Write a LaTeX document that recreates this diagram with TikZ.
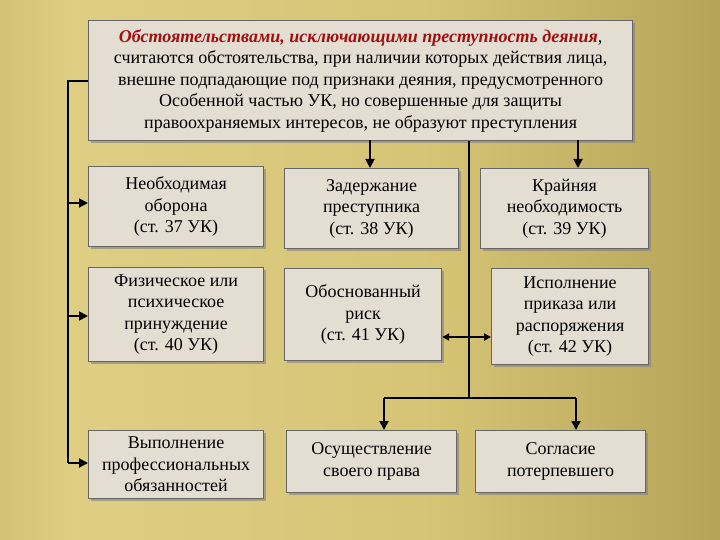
\documentclass[tikz,border=0pt]{standalone}
\usepackage{fontspec}
\setmainfont{Liberation Serif}
\usetikzlibrary{arrows.meta,shadows}
\definecolor{boxf}{HTML}{E4DDD2}
\definecolor{redt}{HTML}{A01010}
\pgfdeclarehorizontalshading{gold}{100bp}{rgb(0bp)=(0.60,0.52,0.22); rgb(30bp)=(0.87,0.81,0.52); rgb(55bp)=(0.84,0.77,0.46); rgb(100bp)=(0.55,0.48,0.20)}
\tikzset{
 bx/.style={draw=black!60,line width=1.2pt,fill=boxf,align=center,font=\fontsize{18}{21.5}\selectfont,inner sep=1pt,drop shadow={shadow xshift=2pt,shadow yshift=-2pt,opacity=.6}},
 ln/.style={line width=1.8pt,black},
 ar/.style={ln,-{Triangle[length=9pt,width=9pt]}}
}
\begin{document}
\begin{tikzpicture}[x=1pt,y=-1pt]
\useasboundingbox (0,0) rectangle (720,540);
\shade[shading=gold] (0,0) rectangle (720,540);
\node[bx,minimum width=544,minimum height=120,anchor=north west] (top) at (88,20) {{\color{redt}\bfseries\itshape Обстоятельствами, исключающими преступность деяния},\\считаются обстоятельства, при наличии которых действия лица,\\внешне подпадающие под признаки деяния, предусмотренного\\Особенной частью УК, но совершенные для защиты\\правоохраняемых интересов, не образуют преступления};
\node[bx,minimum width=175,minimum height=80,anchor=north west] (a1) at (88,166) {Необходимая\\оборона\\(ст. 37 УК)};
\node[bx,minimum width=174,minimum height=80,anchor=north west] (a2) at (284,168) {Задержание\\преступника\\(ст. 38 УК)};
\node[bx,minimum width=168,minimum height=80,anchor=north west] (a3) at (480,168) {Крайняя\\необходимость\\(ст. 39 УК)};
\node[bx,minimum width=175,minimum height=94,anchor=north west] (b1) at (88,267) {Физическое или\\психическое\\принуждение\\(ст. 40 УК)};
\node[bx,minimum width=157,minimum height=92,anchor=north west] (b2) at (284,268) {Обоснованный\\риск\\(ст. 41 УК)};
\node[bx,minimum width=157,minimum height=96,anchor=north west] (b3) at (491,268) {Исполнение\\приказа или\\распоряжения\\(ст. 42 УК)};
\node[bx,minimum width=175,minimum height=68,anchor=north west] (c1) at (88,430) {Выполнение\\профессиональных\\обязанностей};
\node[bx,minimum width=170,minimum height=62,anchor=north west] (c2) at (286,430) {Осуществление\\своего права};
\node[bx,minimum width=170,minimum height=62,anchor=north west] (c3) at (475,430) {Согласие\\потерпевшего};
\coordinate (l0) at (68,81);
\draw[ln] (top.west|-l0) -- (l0) -- (68,463);
\draw[ar] (68,203) -- (a1.west|-68,203);
\draw[ar] (68,316) -- (b1.west|-68,316);
\draw[ar] (68,463) -- (c1.west|-68,463);
\draw[ar] (a2.north-|370,0) ++(0,-28) -- (a2.north-|370,0);
\draw[ar] (a3.north-|578,0) ++(0,-28) -- (a3.north-|578,0);
\coordinate (t) at (469,398);
\draw[ln] (top.south-|t) -- (t);
\draw[ln] (384,398) -- (576,398);
\draw[ar] (384,398) -- (c2.north-|384,0);
\draw[ar] (576,398) -- (c3.north-|576,0);
\draw[ln,{Triangle[length=7pt,width=7pt]}-{Triangle[length=7pt,width=7pt]}] (b2.east|-0,337) -- (b3.west|-0,337);
\end{tikzpicture}
\end{document}
